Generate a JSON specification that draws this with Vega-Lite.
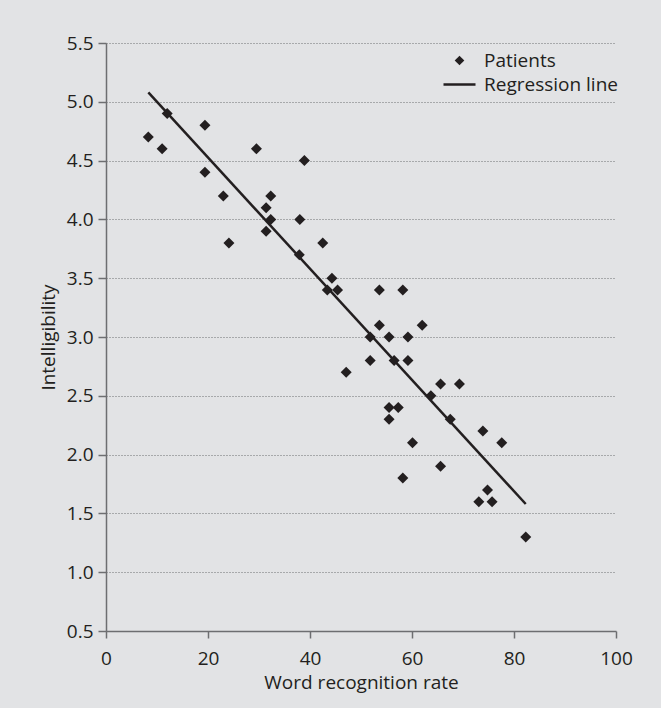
{
  "$schema": "https://vega.github.io/schema/vega-lite/v6.json",
  "width": 510,
  "height": 588,
  "autosize": {"type": "none"},
  "padding": {"left": 106, "top": 43, "right": 45, "bottom": 77},
  "background": "#e2e3e5",
  "config": {
    "view": {"stroke": null},
    "font": "Open Sans",
    "axis": {
      "labelFont": "Open Sans", "labelFontSize": 19, "labelColor": "#231f20", "labelFlush": false,
      "titleFont": "Open Sans", "titleFontSize": 19, "titleColor": "#231f20", "titleFontWeight": "normal",
      "domainColor": "#6d6e71", "domainWidth": 1.5, "tickColor": "#6d6e71", "tickWidth": 1.5
    },
    "legend": {
      "labelFont": "Open Sans", "labelFontSize": 19, "labelColor": "#231f20"
    }
  },
  "datasets": {
    "patients": [
      {"rate": 8.3, "intel": 4.7}, {"rate": 11.0, "intel": 4.6}, {"rate": 12.0, "intel": 4.9},
      {"rate": 19.4, "intel": 4.8}, {"rate": 19.4, "intel": 4.4}, {"rate": 23.0, "intel": 4.2},
      {"rate": 24.1, "intel": 3.8}, {"rate": 29.5, "intel": 4.6}, {"rate": 31.4, "intel": 4.1},
      {"rate": 31.4, "intel": 3.9}, {"rate": 32.3, "intel": 4.0}, {"rate": 32.3, "intel": 4.2},
      {"rate": 38.0, "intel": 4.0}, {"rate": 38.9, "intel": 4.5}, {"rate": 37.9, "intel": 3.7},
      {"rate": 42.5, "intel": 3.8}, {"rate": 44.3, "intel": 3.5}, {"rate": 43.4, "intel": 3.4},
      {"rate": 45.4, "intel": 3.4}, {"rate": 47.1, "intel": 2.7}, {"rate": 51.8, "intel": 3.0},
      {"rate": 51.8, "intel": 2.8}, {"rate": 53.6, "intel": 3.4}, {"rate": 53.6, "intel": 3.1},
      {"rate": 55.5, "intel": 3.0}, {"rate": 56.5, "intel": 2.8}, {"rate": 55.5, "intel": 2.4},
      {"rate": 55.5, "intel": 2.3}, {"rate": 57.3, "intel": 2.4}, {"rate": 58.2, "intel": 3.4},
      {"rate": 59.2, "intel": 3.0}, {"rate": 59.2, "intel": 2.8}, {"rate": 58.2, "intel": 1.8},
      {"rate": 60.1, "intel": 2.1}, {"rate": 62.0, "intel": 3.1}, {"rate": 63.7, "intel": 2.5},
      {"rate": 65.6, "intel": 2.6}, {"rate": 65.6, "intel": 1.9}, {"rate": 67.5, "intel": 2.3},
      {"rate": 69.3, "intel": 2.6}, {"rate": 73.1, "intel": 1.6}, {"rate": 73.9, "intel": 2.2},
      {"rate": 74.8, "intel": 1.7}, {"rate": 75.7, "intel": 1.6}, {"rate": 77.6, "intel": 2.1},
      {"rate": 82.3, "intel": 1.3}
    ],
    "regression": [
      {"rate": 8.3, "intel": 5.08},
      {"rate": 82.3, "intel": 1.58}
    ]
  },
  "encoding": {
    "x": {
      "field": "rate", "type": "quantitative",
      "scale": {"domain": [0, 100], "nice": false, "zero": false},
      "axis": {"title": "Word recognition rate", "values": [0, 20, 40, 60, 80, 100], "grid": false,
               "tickSize": 7, "labelPadding": 11, "titlePadding": 5}
    },
    "y": {
      "field": "intel", "type": "quantitative",
      "scale": {"domain": [0.5, 5.5], "nice": false, "zero": false},
      "axis": {"title": "Intelligibility", "values": [0.5, 1, 1.5, 2, 2.5, 3, 3.5, 4, 4.5, 5, 5.5],
               "format": ".1f", "tickSize": 8, "labelPadding": 5, "titlePadding": 8,
               "grid": true, "gridDash": [1, 2], "gridColor": "#6d6e71", "gridWidth": 1}
    }
  },
  "layer": [
    {
      "data": {"name": "regression"},
      "mark": {"type": "line", "color": "#231f20", "strokeWidth": 2.5}
    },
    {
      "data": {"name": "patients"},
      "transform": [{"calculate": "'Patients'", "as": "series"}],
      "mark": {"type": "point", "filled": true, "opacity": 1, "size": 336, "color": "#231f20", "strokeWidth": 0},
      "encoding": {
        "shape": {
          "field": "series", "type": "nominal",
          "scale": {"domain": ["Patients", "Regression line"],
                    "range": ["M0,-0.6L0.6,0L0,0.6L-0.6,0Z", "M-2,-0.16H2V0.16H-2Z"]},
          "legend": {"title": null, "orient": "none", "legendX": 344, "legendY": 8,
                     "symbolSize": 256, "symbolFillColor": "#231f20", "symbolStrokeWidth": 0,
                     "labelOffset": 15, "rowPadding": 4, "padding": 0}
        }
      }
    }
  ]
}
